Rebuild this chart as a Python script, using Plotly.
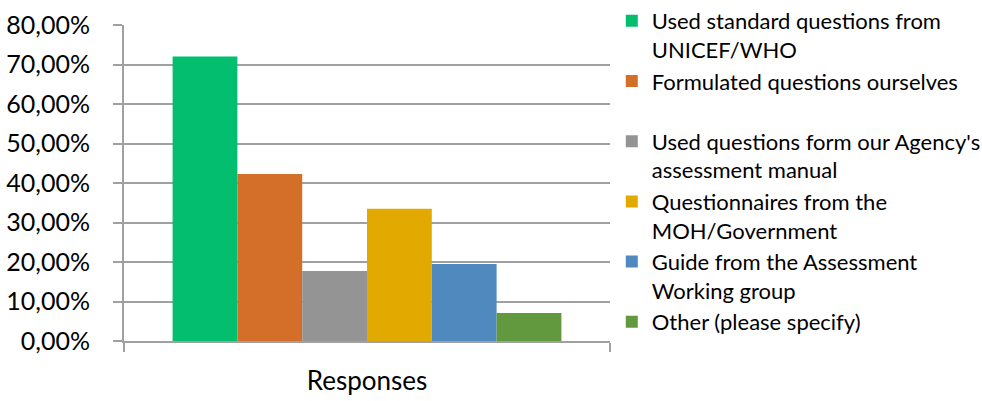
import plotly.graph_objects as go

# Survey: source of the questions used in the assessment
category = ["Responses"]
series_names = [
    "Used standard questions from<br>UNICEF/WHO",
    "Formulated questions ourselves<br> ",
    "Used questions form our Agency's<br>assessment manual",
    "Questionnaires from the<br>MOH/Government",
    "Guide from the Assessment<br>Working group",
    "Other (please specify)",
]
series_values = [0.72, 0.423, 0.177, 0.335, 0.195, 0.071]
series_colors = ["#02BE6E", "#D46F2A", "#949494", "#E2AA00", "#4F89BD", "#62993E"]
y_ticks = [0, 0.1, 0.2, 0.3, 0.4, 0.5, 0.6, 0.7, 0.8]
y_tick_labels = ["0,00%", "10,00%", "20,00%", "30,00%", "40,00%",
                 "50,00%", "60,00%", "70,00%", "80,00%"]

FONT = "Lato"
AXIS_GRAY = "#A0A0A0"

fig = go.Figure()
for i, (name, val, col) in enumerate(zip(series_names, series_values, series_colors)):
    fig.add_trace(go.Bar(
        x=category, y=[val], name=name, marker=dict(color=col, line=dict(width=0)),
        legendgroup=f"g{i}",
    ))

fig.update_layout(
    width=982, height=401,
    margin=dict(l=124, r=372, t=25, b=60),
    paper_bgcolor="white", plot_bgcolor="white",
    barmode="group", bargap=0.2, bargroupgap=0,
    font=dict(family=FONT, color="#000000"),
    showlegend=True,
    legend=dict(
        xref="container", yref="container",
        x=0.623, y=1.0, xanchor="left", yanchor="top",
        maxheight=420,
        font=dict(family=FONT, size=22, color="#000000"),
        valign="top", tracegroupgap=0, itemclick=False,
        bgcolor="rgba(0,0,0,0)", borderwidth=0,
    ),
)

fig.update_yaxes(
    range=[0, 0.8], tickvals=y_ticks, ticktext=y_tick_labels,
    showgrid=True, gridcolor=AXIS_GRAY, gridwidth=2,
    showline=True, linecolor=AXIS_GRAY, linewidth=2,
    ticks="outside", ticklen=9, tickwidth=2, tickcolor=AXIS_GRAY,
    ticklabelstandoff=18, automargin=False,
    tickfont=dict(family=FONT, size=25, color="#000000"),
    zeroline=False,
)
fig.update_xaxes(
    type="category", tickson="boundaries",
    showline=True, linecolor=AXIS_GRAY, linewidth=2,
    ticks="outside", ticklen=9, tickwidth=2, tickcolor=AXIS_GRAY,
    tickfont=dict(family=FONT, size=26, color="#000000"),
    ticklabelstandoff=16, automargin=False,
    showgrid=False,
)

fig.write_html("out.html")
